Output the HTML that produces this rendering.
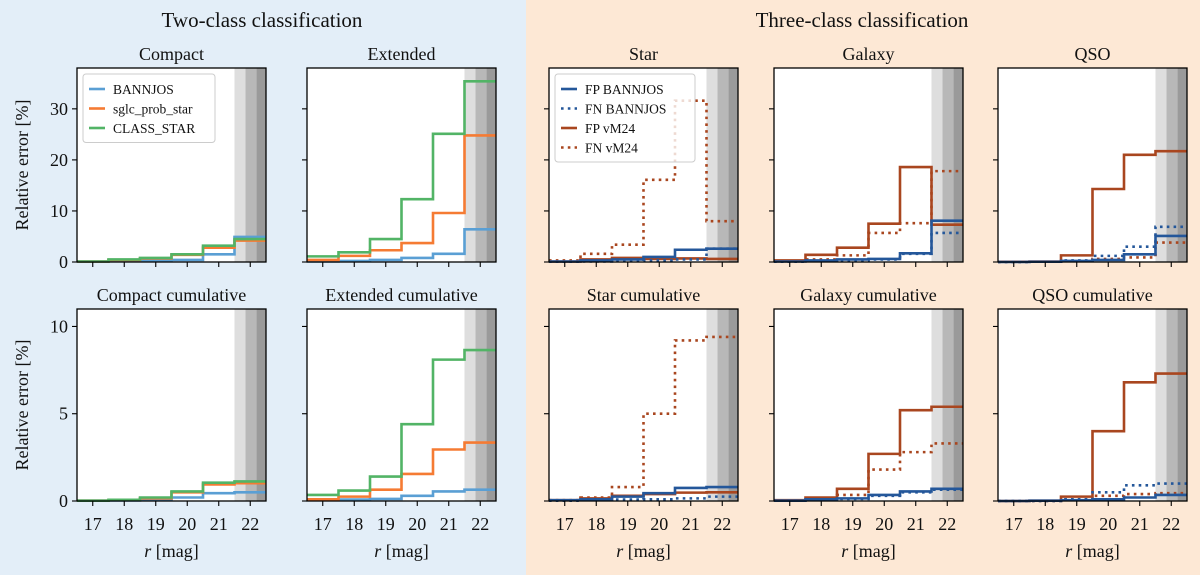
<!DOCTYPE html>
<html><head><meta charset="utf-8"><style>
html,body{margin:0;padding:0;width:1200px;height:575px;overflow:hidden;background:#fff}
svg text{font-family:"Liberation Serif",serif;fill:#111}
</style></head><body>
<svg id="fig" width="1200" height="575" xmlns="http://www.w3.org/2000/svg">
<rect x="0" y="0" width="526" height="575" fill="#e3eef8"/>
<rect x="526" y="0" width="674" height="575" fill="#fde8d5"/>
<text x="262" y="27" font-size="21" text-anchor="middle">Two-class classification</text>
<text x="862" y="27" font-size="21" text-anchor="middle">Three-class classification</text>
</svg>
<script>
// ---- data ----
const binEdges = [16.5,17.5,18.5,19.5,20.5,21.5,22.5];
const xTicks = [17,18,19,20,21,22];
const yTicksTop = [0,10,20,30];
const yTicksBottom = [0,5,10];
const shadeEdges = [21.5,21.85,22.2,22.5];
// two-class, per-bin
const compactBannjos = [0.1,0.2,0.3,0.4,1.5,4.9];
const compactSglc = [0.1,0.4,0.7,1.4,2.8,4.2];
const compactClassStar = [0.1,0.5,0.8,1.5,3.2,4.5];
const extendedBannjos = [0.1,0.2,0.4,0.8,1.6,6.4];
const extendedSglc = [0.4,1.2,2.3,3.7,9.6,24.8];
const extendedClassStar = [1.1,1.9,4.5,12.3,25.1,35.4];
// two-class cumulative
const compactCumBannjos = [0.02,0.03,0.08,0.2,0.45,0.5];
const compactCumSglc = [0.02,0.05,0.15,0.5,0.95,1.02];
const compactCumClassStar = [0.02,0.07,0.2,0.55,1.05,1.12];
const extendedCumBannjos = [0.05,0.08,0.12,0.3,0.55,0.65];
const extendedCumSglc = [0.1,0.25,0.65,1.55,2.95,3.35];
const extendedCumClassStar = [0.35,0.6,1.4,4.4,8.1,8.65];
// three-class per-bin
const starFpBannjos = [0.1,0.3,0.5,1.0,2.4,2.6];
const starFnBannjos = [0.05,0.1,0.2,0.3,0.5,2.6];
const starFpVm24 = [0.1,0.5,0.8,0.6,0.7,0.6];
const starFnVm24 = [0.3,1.6,3.4,16.1,31.6,8.0];
const galaxyFpBannjos = [0.1,0.3,0.5,0.6,1.7,8.1];
const galaxyFnBannjos = [0.05,0.2,0.3,0.5,1.6,5.7];
const galaxyFpVm24 = [0.3,1.4,2.8,7.5,18.6,7.3];
const galaxyFnVm24 = [0.1,0.5,1.3,5.7,7.6,17.8];
const qsoFpBannjos = [0.0,0.05,0.2,0.4,1.5,5.1];
const qsoFnBannjos = [0.0,0.05,0.3,1.2,3.0,6.9];
const qsoFpVm24 = [0.05,0.1,1.3,14.3,21.0,21.7];
const qsoFnVm24 = [0.0,0.05,0.2,0.6,0.9,3.8];
// three-class cumulative
const starCumFpBannjos = [0.05,0.1,0.25,0.45,0.75,0.8];
const starCumFnBannjos = [0.02,0.05,0.08,0.1,0.15,0.25];
const starCumFpVm24 = [0.05,0.15,0.3,0.4,0.48,0.5];
const starCumFnVm24 = [0.05,0.2,0.8,5.0,9.2,9.4];
const galaxyCumFpBannjos = [0.02,0.1,0.15,0.35,0.55,0.7];
const galaxyCumFnBannjos = [0.02,0.08,0.12,0.3,0.5,0.65];
const galaxyCumFpVm24 = [0.05,0.2,0.7,2.7,5.2,5.4];
const galaxyCumFnVm24 = [0.03,0.1,0.35,1.8,2.8,3.3];
const qsoCumFpBannjos = [0.0,0.02,0.05,0.1,0.2,0.35];
const qsoCumFnBannjos = [0.0,0.0,0.1,0.5,0.9,1.0];
const qsoCumFpVm24 = [0.0,0.02,0.25,4.0,6.8,7.3];
const qsoCumFnVm24 = [0.0,0.0,0.1,0.3,0.4,0.45];

const C_B='#5a9fd4', C_O='#f57b33', C_G='#52b466', C_DB='#24579a', C_DR='#a9461f';
const NS='http://www.w3.org/2000/svg';
const svg=document.getElementById('fig');
function el(tag,attrs,parent){const e=document.createElementNS(NS,tag);for(const k in attrs)e.setAttribute(k,attrs[k]);(parent||svg).appendChild(e);return e;}

const cols=[77,307,549,774,998], W=189;
const rows=[{top:68,bot:262,max:38,ticks:yTicksTop},{top:309,bot:501,max:11,ticks:yTicksBottom}];

function panel(ci,ri,title,series){
  const x0=cols[ci], R=rows[ri];
  const sx=v=>x0+(v-16.5)/6*W;
  const sy=v=>R.bot-v/R.max*(R.bot-R.top);
  const g=el('g',{});
  
  
  const bg=el('rect',{x:x0,y:R.top,width:W,height:R.bot-R.top,fill:'#fff'},g);
  
  
  const shades=['#dedede','#b8b8b8','#9a9a9a'];
  for(let i=0;i<3;i++){
    const r=el('rect',{x:sx(shadeEdges[i]),y:R.top,width:sx(shadeEdges[i+1])-sx(shadeEdges[i]),height:R.bot-R.top,fill:shades[i]},g);
    
    
  }
  series.forEach(s=>{
    let d='M'+sx(binEdges[0])+','+sy(s.v[0]);
    for(let i=0;i<s.v.length;i++){
      if(i>0)d+=' L'+sx(binEdges[i])+','+sy(s.v[i]);
      d+=' L'+sx(binEdges[i+1])+','+sy(s.v[i]);
    }
    const p=el('path',{d:d,fill:'none',stroke:s.c,'stroke-width':2.6,'stroke-dasharray':s.dot?'2.6,4.2':'none','stroke-linejoin':'miter'},g);
    
    
  });
  const fr=el('rect',{x:x0,y:R.top,width:W,height:R.bot-R.top,fill:'none',stroke:'#000','stroke-width':1.3},g);
  
  
  xTicks.forEach(t=>{
    el('line',{x1:sx(t),x2:sx(t),y1:R.bot,y2:R.bot+5,stroke:'#000','stroke-width':1.1},g);
    if(ri===1){
      const tx=el('text',{x:sx(t),y:R.bot+29,'font-size':18,'text-anchor':'middle'},g);
      tx.textContent=t;
      
      
    }
  });
  R.ticks.forEach(t=>{
    el('line',{x1:x0,x2:x0-5,y1:sy(t),y2:sy(t),stroke:'#000','stroke-width':1.1},g);
    if(ci===0){
      const tx=el('text',{x:x0-9,y:sy(t)+6,'font-size':18,'text-anchor':'end'},g);
      tx.textContent=t;
      
      
    }
  });
  const tt=el('text',{x:x0+W/2,y:R.top-8,'font-size':18,'text-anchor':'middle'},g);
  tt.textContent=title;
  
  
  if(ri===1){
    const xl=el('text',{x:x0+W/2,y:557,'font-size':18,'text-anchor':'middle'},g);
    xl.innerHTML='<tspan font-style="italic">r</tspan> [mag]';
    
    
  }
  if(ci===0){
    const cy=(R.top+R.bot)/2;
    const yl=el('text',{x:28,y:cy,'font-size':18,'text-anchor':'middle',transform:'rotate(-90 28 '+cy+')'},g);
    yl.textContent='Relative error [%]';
    
    
  }
}
const two=(b,s,c)=>[{n:'bannjos-line',v:b,c:C_B},{n:'sglc-prob-star-line',v:s,c:C_O},{n:'class-star-line',v:c,c:C_G}];
const three=(fpb,fnb,fpv,fnv)=>[{n:'fn-vm24-line',v:fnv,c:C_DR,dot:1},{n:'fp-vm24-line',v:fpv,c:C_DR},{n:'fn-bannjos-line',v:fnb,c:C_DB,dot:1},{n:'fp-bannjos-line',v:fpb,c:C_DB}];
panel(0,0,'Compact',two(compactBannjos,compactSglc,compactClassStar));
panel(1,0,'Extended',two(extendedBannjos,extendedSglc,extendedClassStar));
panel(0,1,'Compact cumulative',two(compactCumBannjos,compactCumSglc,compactCumClassStar));
panel(1,1,'Extended cumulative',two(extendedCumBannjos,extendedCumSglc,extendedCumClassStar));
panel(2,0,'Star',three(starFpBannjos,starFnBannjos,starFpVm24,starFnVm24));
panel(3,0,'Galaxy',three(galaxyFpBannjos,galaxyFnBannjos,galaxyFpVm24,galaxyFnVm24));
panel(4,0,'QSO',three(qsoFpBannjos,qsoFnBannjos,qsoFpVm24,qsoFnVm24));
panel(2,1,'Star cumulative',three(starCumFpBannjos,starCumFnBannjos,starCumFpVm24,starCumFnVm24));
panel(3,1,'Galaxy cumulative',three(galaxyCumFpBannjos,galaxyCumFnBannjos,galaxyCumFpVm24,galaxyCumFnVm24));
panel(4,1,'QSO cumulative',three(qsoCumFpBannjos,qsoCumFnBannjos,qsoCumFpVm24,qsoCumFnVm24));

function legend(x,y,w,items,name){
  const g=el('g',{});
  
  
  el('rect',{x:x,y:y,width:w,height:items.length*19.5+10,rx:3,fill:'rgba(255,255,255,0.8)',stroke:'#ccc','stroke-width':1},g);
  items.forEach((it,i)=>{
    const cy=y+15+i*19.5;
    el('line',{x1:x+6,x2:x+22,y1:cy,y2:cy,stroke:it.c,'stroke-width':2.6,'stroke-dasharray':it.dot?'2.6,4.2':'none'},g);
    const t=el('text',{x:x+30,y:cy+5,'font-size':13.5},g);
    t.textContent=it.t;
    
    
  });
}
legend(83,74,132,[{t:'BANNJOS',c:C_B},{t:'sglc_prob_star',c:C_O},{t:'CLASS_STAR',c:C_G}],'two-class-legend');
legend(555,74,140,[{t:'FP BANNJOS',c:C_DB},{t:'FN BANNJOS',c:C_DB,dot:1},{t:'FP vM24',c:C_DR},{t:'FN vM24',c:C_DR,dot:1}],'three-class-legend');
</script>
</body></html>
